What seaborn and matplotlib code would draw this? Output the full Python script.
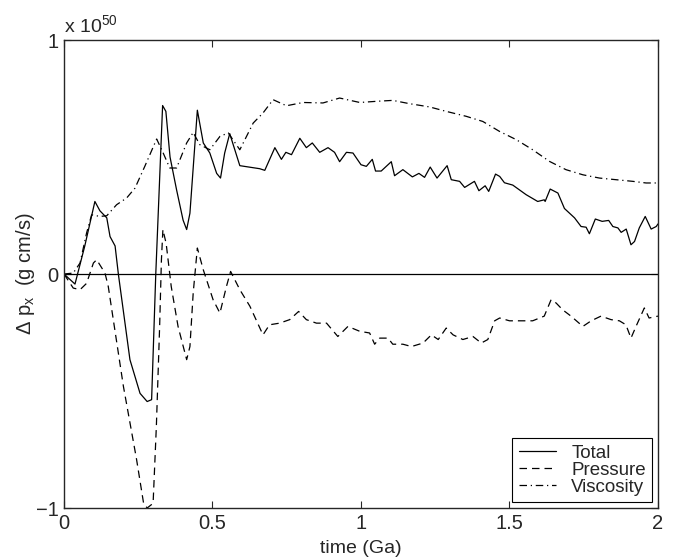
import numpy as np
import pandas as pd
import matplotlib
matplotlib.use("Agg")
import matplotlib.pyplot as plt
import seaborn as sns

# ---- data (units of 1e50 g cm/s) ----
total_t = [0.0, 0.037, 0.07, 0.104, 0.121, 0.144, 0.155, 0.172, 0.183, 0.222, 0.256, 0.28,
           0.295, 0.309, 0.332, 0.343, 0.357, 0.379, 0.401, 0.413, 0.424, 0.449, 0.469,
           0.491, 0.514, 0.527, 0.541, 0.558, 0.592, 0.659, 0.676, 0.71, 0.732, 0.747,
           0.766, 0.794, 0.816, 0.836, 0.861, 0.889, 0.911, 0.928, 0.951, 0.973, 1.0,
           1.018, 1.038, 1.049, 1.068, 1.102, 1.113, 1.141, 1.173, 1.195, 1.214, 1.233,
           1.256, 1.29, 1.304, 1.332, 1.349, 1.382, 1.397, 1.418, 1.43, 1.453, 1.467,
           1.483, 1.511, 1.556, 1.595, 1.617, 1.62, 1.637, 1.663, 1.685, 1.719, 1.741,
           1.758, 1.769, 1.789, 1.812, 1.834, 1.848, 1.865, 1.876, 1.893, 1.909, 1.921,
           1.937, 1.957, 1.977, 1.994, 2.0]
total_v = [0.0, -0.043, 0.12, 0.31, 0.27, 0.24, 0.16, 0.12, 0.0, -0.366, -0.51, -0.545,
           -0.537, 0.0, 0.72, 0.695, 0.50, 0.36, 0.23, 0.19, 0.26, 0.70, 0.56,
           0.517, 0.43, 0.41, 0.517, 0.60, 0.463, 0.45, 0.443, 0.54, 0.49, 0.52,
           0.51, 0.58, 0.54, 0.56, 0.52, 0.54, 0.52, 0.48, 0.52, 0.517, 0.467,
           0.46, 0.49, 0.44, 0.44, 0.48, 0.42, 0.446, 0.415, 0.43, 0.413, 0.457,
           0.41, 0.463, 0.403, 0.396, 0.37, 0.396, 0.356, 0.377, 0.353, 0.427, 0.417,
           0.39, 0.38, 0.339, 0.31, 0.317, 0.31, 0.363, 0.346, 0.28, 0.24, 0.203,
           0.20, 0.172, 0.235, 0.225, 0.229, 0.203, 0.197, 0.178, 0.192, 0.125, 0.139,
           0.197, 0.246, 0.192, 0.203, 0.214]

pressure_t = [0.0, 0.031, 0.054, 0.076, 0.099, 0.11, 0.138, 0.149, 0.2, 0.244, 0.268, 0.28,
              0.30, 0.311, 0.322, 0.328, 0.333, 0.344, 0.361, 0.384, 0.413, 0.424, 0.435,
              0.449, 0.469, 0.502, 0.525, 0.547, 0.561, 0.592, 0.626, 0.67, 0.692, 0.726,
              0.76, 0.79, 0.816, 0.85, 0.884, 0.922, 0.956, 0.996, 1.029, 1.046, 1.063,
              1.091, 1.107, 1.141, 1.17, 1.209, 1.237, 1.26, 1.287, 1.31, 1.343, 1.377,
              1.405, 1.427, 1.45, 1.467, 1.5, 1.545, 1.578, 1.617, 1.64, 1.657, 1.679,
              1.707, 1.747, 1.775, 1.808, 1.842, 1.87, 1.892, 1.909, 1.926, 1.954, 1.97, 2.0]
pressure_v = [0.0, -0.06, -0.067, -0.04, 0.047, 0.061, 0.004, -0.053, -0.48, -0.79, -0.98, -1.0,
              -0.98, -0.65, -0.224, 0.06, 0.19, 0.13, -0.053, -0.224, -0.366, -0.31, -0.081,
              0.111, 0.018, -0.11, -0.167, -0.053, 0.011, -0.067, -0.138, -0.26, -0.217, -0.21,
              -0.195, -0.16, -0.195, -0.21, -0.21, -0.267, -0.224, -0.245, -0.252, -0.30, -0.274,
              -0.274, -0.30, -0.30, -0.31, -0.295, -0.26, -0.28, -0.231, -0.26, -0.28, -0.267,
              -0.295, -0.28, -0.2, -0.188, -0.2, -0.2, -0.2, -0.18, -0.11, -0.124, -0.153,
              -0.18, -0.224, -0.2, -0.18, -0.195, -0.2, -0.217, -0.274, -0.224, -0.145, -0.188, -0.18]

viscosity_t = [0.0, 0.031, 0.054, 0.076, 0.093, 0.121, 0.144, 0.177, 0.211, 0.239, 0.272,
               0.312, 0.334, 0.356, 0.379, 0.413, 0.435, 0.457, 0.491, 0.525, 0.553, 0.592,
               0.637, 0.67, 0.704, 0.749, 0.805, 0.872, 0.928, 0.996, 1.052, 1.107, 1.163,
               1.231, 1.287, 1.354, 1.41, 1.467, 1.523, 1.578, 1.635, 1.69, 1.747, 1.803,
               1.859, 1.915, 1.96, 2.0]
viscosity_v = [0.0, 0.004, 0.047, 0.175, 0.253, 0.246, 0.249, 0.296, 0.325, 0.367, 0.46,
               0.577, 0.517, 0.453, 0.453, 0.56, 0.605, 0.553, 0.531, 0.588, 0.603, 0.531,
               0.645, 0.688, 0.745, 0.719, 0.733, 0.731, 0.752, 0.733, 0.738, 0.742, 0.728,
               0.714, 0.695, 0.674, 0.652, 0.609, 0.574, 0.531, 0.481, 0.446, 0.424, 0.41,
               0.403, 0.396, 0.389, 0.389]

series_names = ["Total", "Pressure", "Viscosity"]
x_ticks = [0, 0.5, 1, 1.5, 2]
x_tick_labels = ["0", "0.5", "1", "1.5", "2"]
y_ticks = [-1, 0, 1]
y_tick_labels = ["\u22121", "0", "1"]

df = pd.concat([
    pd.DataFrame({"time": total_t, "dp": total_v, "series": "Total"}),
    pd.DataFrame({"time": pressure_t, "dp": pressure_v, "series": "Pressure"}),
    pd.DataFrame({"time": viscosity_t, "dp": viscosity_v, "series": "Viscosity"}),
])

sns.set_style("ticks")
plt.rcParams["font.family"] = ["Liberation Sans", "DejaVu Sans"]
plt.rcParams["mathtext.fontset"] = "custom"
plt.rcParams["mathtext.rm"] = "Liberation Sans"
plt.rcParams["mathtext.it"] = "Liberation Sans"

fig = plt.figure(figsize=(6.73, 5.58), dpi=100)
ax = fig.add_axes([0.0951, 0.0896, 0.8826, 0.8387])

styles = {"Total": "-", "Pressure": (0, (6, 4)), "Viscosity": (0, (6, 3, 1, 3))}
for name in series_names:
    sub = df[df["series"] == name]
    sns.lineplot(data=sub, x="time", y="dp", ax=ax, color="black", lw=0.9,
                 linestyle=styles[name], label=name, estimator=None, sort=False)

ax.axhline(0, color="black", lw=0.9)

ax.set_xlim(0, 2)
ax.set_ylim(-1, 1)
ax.set_xticks(x_ticks)
ax.set_xticklabels(x_tick_labels)
ax.set_yticks(y_ticks)
ax.set_yticklabels(y_tick_labels)
ax.tick_params(direction="in", top=True, right=True, labelsize=14.5, length=5,
               width=0.8, pad=4)
for s in ax.spines.values():
    s.set_linewidth(1.0)
    s.set_visible(True)

ax.set_xlabel("time (Ga)", fontsize=14, labelpad=5)
ax.set_ylabel("\u0394 p$_{x}$  (g cm/s)", fontsize=14.5, labelpad=-1)
ax.text(0.0, 1.008, "x 10$^{50}$", transform=ax.transAxes, fontsize=14,
        ha="left", va="bottom")

leg = ax.legend(loc="lower right", fontsize=13.5, frameon=True, fancybox=False,
                edgecolor="black", framealpha=1, borderaxespad=0.3,
                handlelength=2.0, handletextpad=0.8, labelspacing=0.0,
                borderpad=0.35)
leg.get_frame().set_linewidth(0.8)

fig.savefig("out.png", dpi=100, facecolor="white")
